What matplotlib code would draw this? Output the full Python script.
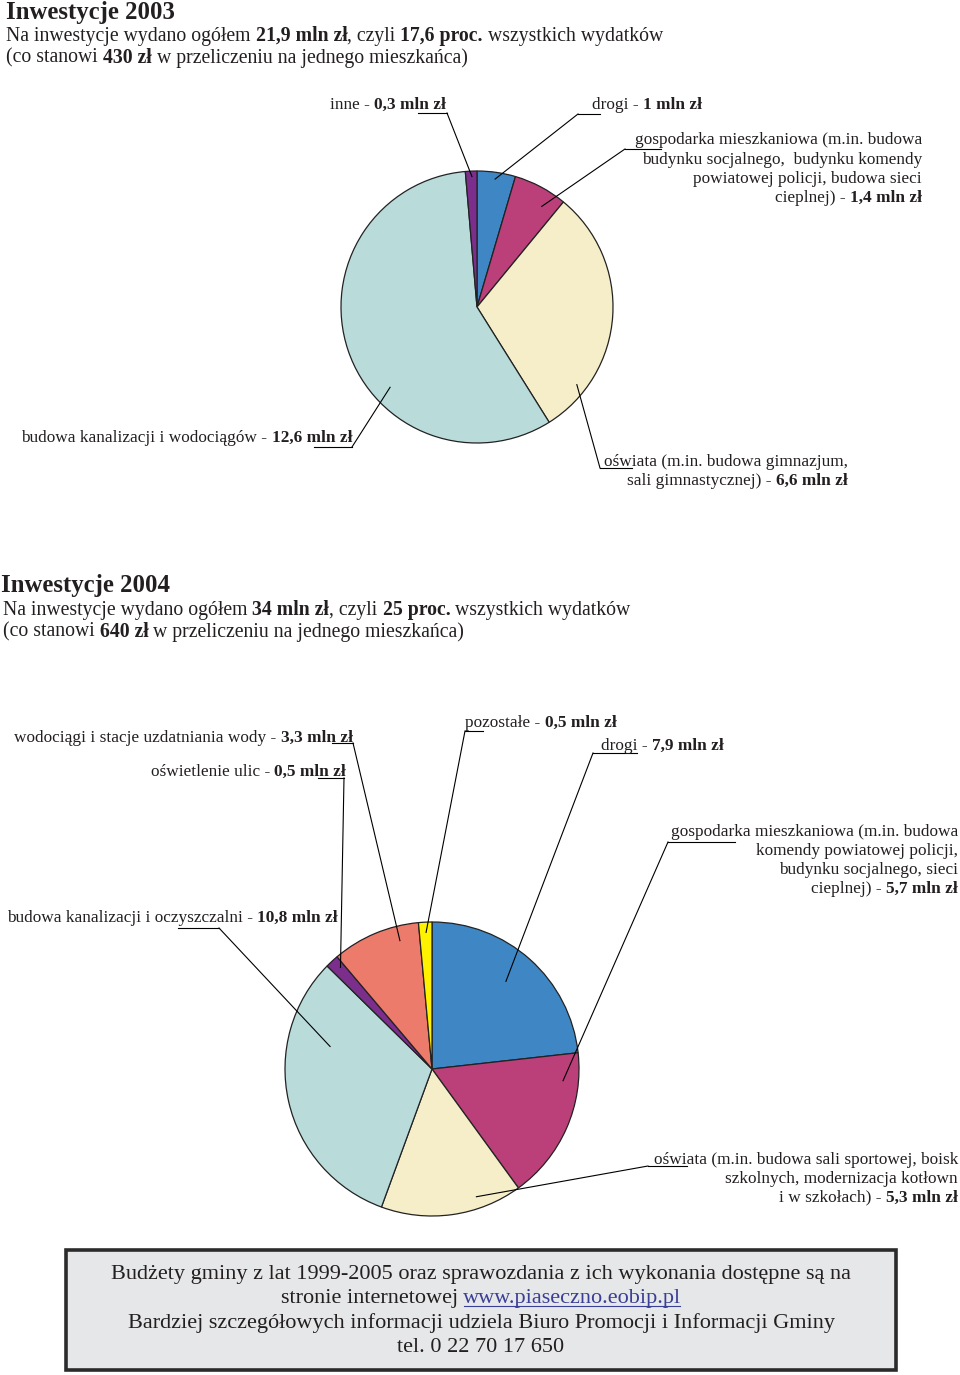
import matplotlib
matplotlib.use('Agg')
import matplotlib.pyplot as plt
from matplotlib.lines import Line2D
from matplotlib.patches import Rectangle
import numpy as np

# ---------------- data ----------------
cats_2003 = ['drogi', 'gospodarka mieszkaniowa', 'oświata', 'budowa kanalizacji i wodociągów', 'inne']
vals_2003 = [1.0, 1.4, 6.6, 12.6, 0.3]
vtxt_2003 = ['1', '1,4', '6,6', '12,6', '0,3']
cols_2003 = ['#3f87c4', '#bb3f79', '#f6eec9', '#b9dcdb', '#7b2e8c']

cats_2004 = ['drogi', 'gospodarka mieszkaniowa', 'oświata', 'budowa kanalizacji i oczyszczalni',
             'oświetlenie ulic', 'wodociągi i stacje uzdatniania wody', 'pozostałe']
vals_2004 = [7.9, 5.7, 5.3, 10.8, 0.5, 3.3, 0.5]
vtxt_2004 = ['7,9', '5,7', '5,3', '10,8', '0,5', '3,3', '0,5']
cols_2004 = ['#3f87c4', '#bb3f79', '#f6eec9', '#b9dcdb', '#7b2e8c', '#ec7b6b', '#fff200']

# ---------------- figure ----------------
W, H = 960, 1375
fig = plt.figure(figsize=(W / 100, H / 100), dpi=100)
FONT = 'Liberation Serif'
TXT = '#231f20'
renderer = fig.canvas.get_renderer()


def text_w(s, size, bold):
    kw = dict(fontsize=size, fontweight='bold' if bold else 'normal', family=FONT)
    t = fig.text(0, 0, '|' + s + '|', **kw)
    t2 = fig.text(0, 0, '||', **kw)
    w = t.get_window_extent(renderer).width - t2.get_window_extent(renderer).width
    t.remove(); t2.remove()
    return w


def rich(x, yc, segs, size, ha='left'):
    px = size * 100 / 72
    segs = [(s[0], s[1], s[2] if len(s) > 2 else TXT) for s in segs]
    widths = [text_w(s, size, b) for s, b, c in segs]
    total = sum(widths)
    x0 = x - total if ha == 'right' else (x - total / 2 if ha == 'center' else x)
    yb = yc + 0.33 * px
    pos = []
    for (s, b, c), w in zip(segs, widths):
        fig.text(x0 / W, (H - yb) / H, s, fontsize=size, fontweight='bold' if b else 'normal',
                 family=FONT, color=c, va='baseline', ha='left')
        pos.append((x0, x0 + w, yb))
        x0 += w
    return pos


def pline(xs, ys, lw=0.8, color='black'):
    fig.add_artist(Line2D([x / W for x in xs], [(H - y) / H for y in ys], lw=lw, color=color,
                          transform=fig.transFigure))


def make_pie(cx, cy, r, vals, cols):
    ax = fig.add_axes([(cx - r) / W, (H - cy - r) / H, 2 * r / W, 2 * r / H])
    wedges, _ = ax.pie(vals, colors=cols, startangle=90, counterclock=False, radius=1,
                       wedgeprops=dict(edgecolor='#222222', linewidth=0.9))
    ax.set_xlim(-1, 1); ax.set_ylim(-1, 1)
    ax.set_aspect('equal'); ax.axis('off')
    return ax, wedges


def anchor(ax, wedge, f, rf):
    a = np.radians(wedge.theta2 - f * (wedge.theta2 - wedge.theta1))
    X, Yd = ax.transData.transform((rf * np.cos(a), rf * np.sin(a)))
    return X, H - Yd


LS = 12.4   # label font size
SS = 14.2   # subtitle font size
HS = 17.8   # header font size

# ---------------- 2003 ----------------
rich(6, 11, [('Inwestycje 2003', True)], HS)
rich(6, 34, [('Na inwestycje wydano ogółem ', False), ('21,9 mln zł', True), (', czyli ', False),
             ('17,6 proc.', True), (' wszystkich wydatków', False)], SS)
rich(6, 56, [('(co stanowi ', False), ('430 zł', True), (' w przeliczeniu na jednego mieszkańca)', False)], SS)

ax1, w1 = make_pie(477, 307, 136, vals_2003, cols_2003)

# labels 2003
rich(330, 103, [(cats_2003[4] + ' - ', False), (vtxt_2003[4] + ' mln zł', True)], LS)
rich(592, 103, [(cats_2003[0] + ' - ', False), (vtxt_2003[0] + ' mln zł', True)], LS)
rich(922, 138, [('gospodarka mieszkaniowa (m.in. budowa', False)], LS, 'right')
rich(922, 158, [('budynku socjalnego,  budynku komendy', False)], LS, 'right')
rich(922, 177, [('powiatowej policji, budowa sieci', False)], LS, 'right')
rich(922, 196, [('cieplnej) - ', False), (vtxt_2003[1] + ' mln zł', True)], LS, 'right')
rich(352, 436, [(cats_2003[3] + ' - ', False), (vtxt_2003[3] + ' mln zł', True)], LS, 'right')
rich(848, 460, [('oświata (m.in. budowa gimnazjum,', False)], LS, 'right')
rich(848, 479, [('sali gimnastycznej) - ', False), (vtxt_2003[2] + ' mln zł', True)], LS, 'right')

fig.canvas.draw()
# leader lines 2003: (wedge index, f, rf, elbow, underline x range)
lead_2003 = [(4, 0.55, 0.96, (447, 113), (418, 447)),
             (0, 0.49, 0.95, (578, 114), (578, 600)),
             (1, 0.71, 0.88, (625, 149), (625, 661)),
             (2, 0.815, 0.93, (600, 468), (600, 632)),
             (3, 0.383, 0.87, (352, 447), (314, 352))]
for i, f, rf, (ex, ey), (u0, u1) in lead_2003:
    axp, ayp = anchor(ax1, w1[i], f, rf)
    pline([axp, ex], [ayp, ey])
    pline([u0, u1], [ey, ey])

# ---------------- 2004 ----------------
rich(1, 584, [('Inwestycje 2004', True)], HS)
rich(3, 608, [('Na inwestycje wydano ogółem ', False), ('34 mln zł', True), (', czyli ', False),
              ('25 proc.', True), (' wszystkich wydatków', False)], SS)
rich(3, 630, [('(co stanowi ', False), ('640 zł', True), (' w przeliczeniu na jednego mieszkańca)', False)], SS)

ax2, w2 = make_pie(432, 1069, 147, vals_2004, cols_2004)

rich(353, 736, [(cats_2004[5] + ' - ', False), (vtxt_2004[5] + ' mln zł', True)], LS, 'right')
rich(346, 770, [(cats_2004[4] + ' - ', False), (vtxt_2004[4] + ' mln zł', True)], LS, 'right')
rich(465, 721, [(cats_2004[6] + ' - ', False), (vtxt_2004[6] + ' mln zł', True)], LS)
rich(601, 744, [(cats_2004[0] + ' - ', False), (vtxt_2004[0] + ' mln zł', True)], LS)
rich(958, 830, [('gospodarka mieszkaniowa (m.in. budowa', False)], LS, 'right')
rich(958, 849, [('komendy powiatowej policji,', False)], LS, 'right')
rich(958, 868, [('budynku socjalnego, sieci', False)], LS, 'right')
rich(958, 887, [('cieplnej) - ', False), (vtxt_2004[1] + ' mln zł', True)], LS, 'right')
rich(338, 916, [(cats_2004[3] + ' - ', False), (vtxt_2004[3] + ' mln zł', True)], LS, 'right')
rich(958, 1158, [('oświata (m.in. budowa sali sportowej, boisk', False)], LS, 'right')
rich(958, 1177, [('szkolnych, modernizacja kotłown', False)], LS, 'right')
rich(958, 1196, [('i w szkołach) - ', False), (vtxt_2004[2] + ' mln zł', True)], LS, 'right')

fig.canvas.draw()
lead_2004 = [(5, 0.75, 0.90, (353, 743), (332, 353)),
             (4, 0.66, 0.93, (344, 778), (318, 344)),
             (6, 0.53, 0.93, (465, 731), (465, 483)),
             (0, 0.48, 0.78, (593, 753), (593, 637)),
             (1, 0.19, 0.895, (668, 842), (668, 735)),
             (2, 0.30, 0.92, (648, 1166), (648, 687)),
             (3, 0.72, 0.71, (219, 928), (178, 219))]
for i, f, rf, (ex, ey), (u0, u1) in lead_2004:
    axp, ayp = anchor(ax2, w2[i], f, rf)
    pline([axp, ex], [ayp, ey])
    pline([u0, u1], [ey, ey])

# ---------------- info box ----------------
fig.add_artist(Rectangle((66 / W, (H - 1370) / H), (896 - 66) / W, (1370 - 1250) / H,
                         transform=fig.transFigure, facecolor='#e6e7e8', edgecolor='#2b2b2b',
                         linewidth=2.6))
BS = 16.0
rich(481, 1272, [('Budżety gminy z lat 1999-2005 oraz sprawozdania z ich wykonania dostępne są na', False)], BS, 'center')
pos = rich(481, 1296, [('stronie internetowej ', False), ('www.piaseczno.eobip.pl', False, '#3a3f96')], BS, 'center')
x0, x1, yb = pos[1]
pline([x0 + 1, x1 - 1], [yb + 2.5, yb + 2.5], lw=0.8, color='#3a3f96')
rich(481, 1321, [('Bardziej szczegółowych informacji udziela Biuro Promocji i Informacji Gminy', False)], BS, 'center')
rich(481, 1345, [('tel. 0 22 70 17 650', False)], BS, 'center')

fig.savefig('out.png', dpi=100)
